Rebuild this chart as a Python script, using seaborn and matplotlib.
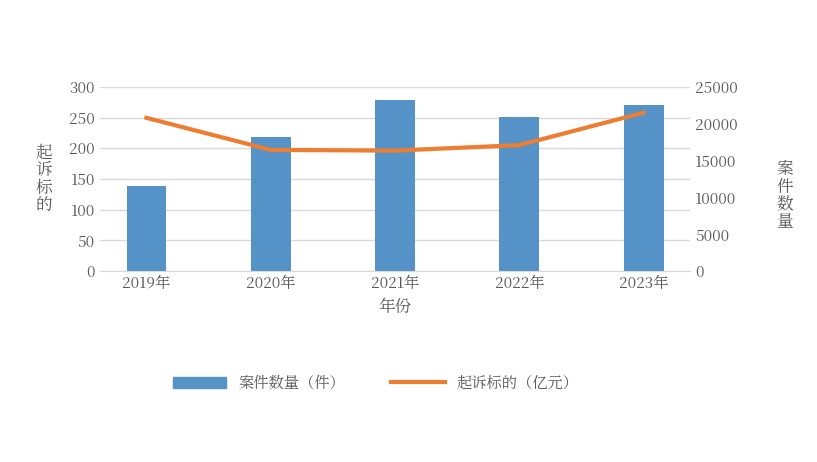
import matplotlib
matplotlib.use('Agg')
import matplotlib.pyplot as plt
from matplotlib import font_manager
import seaborn as sns
import pandas as pd
from matplotlib.lines import Line2D
from matplotlib.patches import Patch

# pick whatever CJK font is actually registered
cjk = [f.name for f in font_manager.fontManager.ttflist if 'CJK' in f.name]
if not cjk:
    for path in font_manager.findSystemFonts():
        if 'CJK' in path or 'cjk' in path.lower():
            try:
                font_manager.fontManager.addfont(path)
            except Exception:
                pass
    cjk = [f.name for f in font_manager.fontManager.ttflist if 'CJK' in f.name]
sc = [n for n in cjk if 'SC' in n]
plt.rcParams['font.family'] = 'sans-serif'
plt.rcParams['font.sans-serif'] = (sc or cjk)[:1] + ['DejaVu Sans']

years = ["2019年", "2020年", "2021年", "2022年", "2023年"]
case_counts = [138, 219, 279, 251, 271]
amounts = [20800, 16450, 16350, 17100, 21500]

blue = "#5592c8"
orange = "#ed7d31"
grey = "#595959"

fig = plt.figure(figsize=(8.17, 4.62), dpi=100)
ax = fig.add_axes([0.122, 0.413, 0.723, 0.399])
df = pd.DataFrame({"year": years, "cases": case_counts, "amount": amounts})
sns.barplot(data=df, x="year", y="cases", color=blue, width=0.32, ax=ax, saturation=1)
ax.set_ylim(0, 300)
ax.set_yticks(range(0, 301, 50))
ax.grid(axis='y', color='#d9d9d9', linewidth=1)
ax.set_axisbelow(True)
for s in ax.spines.values():
    s.set_visible(False)
ax.spines['bottom'].set_visible(True)
ax.spines['bottom'].set_color('#d9d9d9')
ax.tick_params(length=0, colors=grey, labelsize=11)
ax.set_xlabel("年份", fontsize=12, color=grey)
ax.set_ylabel("起\n诉\n标\n的", rotation=0, fontsize=12, color=grey, labelpad=18, va='center', linespacing=1.0)

ax2 = ax.twinx()
sns.lineplot(data=df, x="year", y="amount", color=orange, linewidth=3, ax=ax2)
ax2.set_ylim(0, 25000)
ax2.set_yticks(range(0, 25001, 5000))
for s in ax2.spines.values():
    s.set_visible(False)
ax2.tick_params(length=0, colors=grey, labelsize=11)
ax2.set_ylabel("案\n件\n数\n量", rotation=0, fontsize=12, color=grey, labelpad=28, va='center', linespacing=1.0)
ax2.yaxis.set_label_position('right')
ax2.yaxis.set_label_coords(1.16, 0.6)

handles = [Patch(color=blue), Line2D([0], [0], color=orange, linewidth=3)]
fig.legend(handles, ["案件数量（件）", "起诉标的（亿元）"], loc='center', bbox_to_anchor=(0.46, 0.17),
           ncol=2, frameon=False, fontsize=11, labelcolor=grey, handlelength=3.5, columnspacing=3)

fig.savefig("out.png", dpi=100)
